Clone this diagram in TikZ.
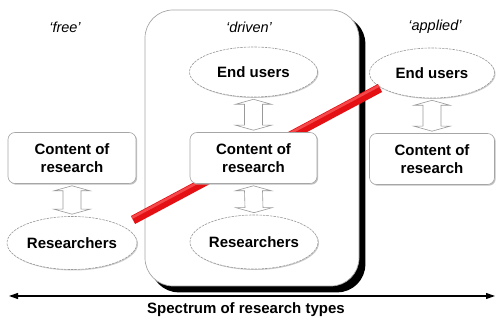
\documentclass[tikz,border=0pt]{standalone}
\usepackage{fontspec}
\setmainfont{Liberation Sans}
\usetikzlibrary{calc,shapes.geometric,shadows,arrows.meta}
\pgfdeclarelayer{background}
\pgfsetlayers{background,main}
\tikzset{
  x=1pt,y=1pt,
  lbl/.style={font=\itshape\fontsize{14.5}{17}\selectfont},
  txt/.style={font=\bfseries\fontsize{15}{18}\selectfont, align=center},
  cbox/.style={txt, rectangle, rounded corners=7pt, draw=gray!70, line width=0.6pt, fill=white,
    minimum width=127pt, minimum height=51pt, inner sep=0pt,
    drop shadow={shadow xshift=1.2pt, shadow yshift=-1.2pt, fill=gray!60, opacity=0.8}},
  ell/.style={txt, ellipse, draw=gray!80, line width=0.6pt, dash pattern=on 2.5pt off 1pt, fill=white,
    minimum width=128pt, minimum height=50pt, inner sep=0pt,
    drop shadow={shadow xshift=1pt, shadow yshift=-1pt, fill=gray!50, opacity=0.8}},
  barrow/.style={draw=gray!80, line width=0.6pt, fill=white},
  bigbox/.style={draw=gray!70, line width=0.7pt, fill=white, rounded corners=28pt,
    minimum width=214pt, minimum height=276pt},
  bigshadow/.style={fill=black, rounded corners=28pt},
  redbar/.style={line width=9pt, color={rgb,255:red,228;green,16;blue,20}},
}
\newcommand\blockarr[2]{%
  \draw[barrow] ($(#1.south)+(0,-2)$) -- ++(18,-5) -- ++(-9,0)
    -- ($(#2.north)+(9,7)$) -- ++(9,0) -- ($(#2.north)+(0,2)$)
    -- ++(-18,5) -- ++(9,0) -- ($(#1.south)+(-9,-7)$) -- ++(-9,0) -- cycle;}
\begin{document}
\begin{tikzpicture}
\useasboundingbox (0,0) rectangle (496,320);
% container
\node[bigbox] (drv) at (252,172) {};
\begin{pgfonlayer}{background}
\fill[bigshadow] ($(drv.south west)+(6,-6)$) rectangle ($(drv.north east)+(6,-6)$);
\end{pgfonlayer}
% column labels
\node[lbl] (lf) at (65,293) {‘free’};
\node[lbl] (ld) at (249,293) {‘driven’};
\node[lbl] (la) at (435,293) {‘applied’};
% nodes
\node[ell] (eud) at (253.5,248) {End users};
\node[ell, minimum width=125pt] (eua) at (432,247) {End users};
\node[cbox, minimum width=128pt] (cf) at (72,162) {Content of\\research};
\node[cbox, minimum width=125pt] (ca) at (432,161) {Content of\\research};
\node[ell, minimum width=130pt, minimum height=53pt] (rf) at (72,77) {Researchers};
\node[ell, minimum height=54pt] (rd) at (254,78) {Researchers};
% red connector
\coordinate (bs) at ($(rf.center)+(61,23)$);
\coordinate (be) at ($(eua.center)+(-52,-15)$);
\draw[redbar] (bs) -- (be);
\draw[line width=2.5pt, color={rgb,255:red,255;green,110;blue,110}, opacity=0.6]
  ($(bs)!2.5pt!90:(be)$) -- ($(be)!2.5pt!-90:(bs)$);
\node[cbox] (cd) at (253.5,162) {Content of\\research};
% block arrows
\blockarr{cf}{rf}
\blockarr{eud}{cd}
\blockarr{cd}{rd}
\blockarr{eua}{ca}
% spectrum axis
\coordinate (sl) at (9,24);
\coordinate (sr) at (495,24);
\draw[line width=1.1pt, {Triangle[length=9pt,width=6pt]}-{Triangle[length=9pt,width=6pt]}] (sl) -- (sr);
\node[txt] (sp) at (246,10) {Spectrum of research types};
\end{tikzpicture}
\end{document}
